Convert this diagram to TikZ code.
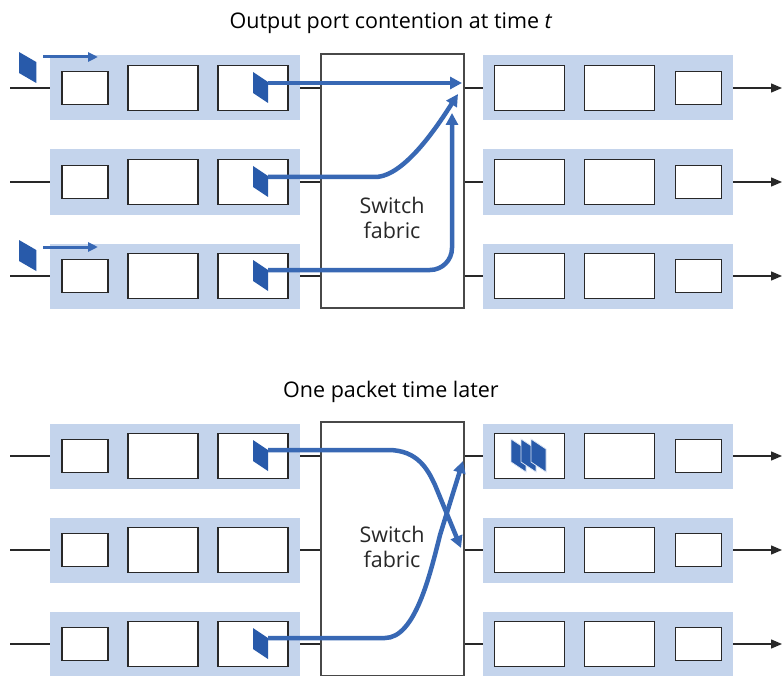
\documentclass[tikz,border=0pt]{standalone}
\usepackage{fontspec}
\setmainfont{Open Sans}
\usetikzlibrary{arrows.meta}
\definecolor{cardblue}{RGB}{196,212,236}
\definecolor{flow}{RGB}{56,104,180}
\definecolor{pktblue}{RGB}{40,90,170}
\definecolor{edge}{RGB}{40,40,40}
\tikzset{
  card/.style={fill=cardblue, draw=none, minimum width=250pt, minimum height=65pt, inner sep=0pt},
  qbox/.style={fill=white, draw=edge, line width=1.5pt, inner sep=0pt, minimum height=45pt, minimum width=70pt},
  sbox/.style={qbox, minimum width=46pt, minimum height=33pt},
  fabricbox/.style={fill=white, draw=edge!85, line width=1.2pt, minimum width=143pt, minimum height=254pt, inner sep=0pt},
  wire/.style={draw=edge, line width=1.3pt},
  outwire/.style={wire, -{Triangle[length=11pt,width=9pt]}},
  flowarrow/.style={draw=flow, line width=4.5pt, -{Triangle[length=12pt,width=12pt]}},
  feedarrow/.style={draw=flow, line width=3pt, -{Triangle[length=10pt,width=9pt]}},
  titletext/.style={font=\fontsize{21.5}{25}\selectfont, text=black, inner sep=0pt},
  fabriclabel/.style={font=\fontsize{21.5}{25}\selectfont, text=edge, align=center, inner sep=0pt},
  packetpic/.pic={\fill[pktblue] (0,0) -- (15,10) -- (15,31) -- (0,21) -- cycle;},
  stackpic/.pic={\filldraw[fill=pktblue, draw=cardblue!60!white, line width=0.8pt] (0,0) -- (15,10) -- (15,33) -- (0,23) -- cycle;},
}
\begin{document}
\begin{tikzpicture}[x=1pt,y=-1pt]
\useasboundingbox (0,0) rectangle (783,676);

\foreach \s/\off in {0/0,1/368}{
  \node[fabricbox] (fab\s) at (392.5,181+\off) {};
  \foreach \r in {1,2,3}{
    \pgfmathsetmacro\cy{88+94*(\r-1)+\off}
    \node[card] (inc\s\r) at (175,\cy) {};
    \node[sbox] (ia\s\r) at (85,\cy) {};
    \node[qbox] (ib\s\r) at (163,\cy) {};
    \node[qbox] (ic\s\r) at (253,\cy) {};
    \node[card] (outc\s\r) at (608,\cy) {};
    \node[qbox] (oa\s\r) at (529.5,\cy) {};
    \node[qbox] (ob\s\r) at (619.5,\cy) {};
    \node[sbox] (oc\s\r) at (698.5,\cy) {};
    \coordinate (src\s\r) at (10,\cy);
    \coordinate (dst\s\r) at (782,\cy);
    \draw[wire] (src\s\r) -- (inc\s\r.west);
    \draw[wire] (inc\s\r.east) -- (fab\s.west |- inc\s\r.east);
    \draw[wire] (fab\s.east |- outc\s\r.west) -- (outc\s\r.west);
    \draw[outwire] (outc\s\r.east) -- (dst\s\r);
  }
}

% titles and labels
\node[titletext] (t0) at (391,23) {Output port contention at time \textit{t}};
\node[titletext] (t1) at (391,392) {One packet time later};
\node[fabriclabel] (lab0) at (392,218) {Switch\\fabric};
\node[fabriclabel] (lab1) at (392,547) {Switch\\fabric};

% packets, top section
\pic at (253,72) {packetpic};
\pic at (253,166) {packetpic};
\pic at (253,260) {packetpic};
\pic[xscale=1.15] at (19,52) {packetpic};
\pic[xscale=1.15] at (19,240) {packetpic};
% packets, bottom section
\pic at (253,440) {packetpic};
\pic at (253,628) {packetpic};
\pic at (511,439) {stackpic};
\pic at (521,439) {stackpic};
\pic at (531,439) {stackpic};

% feed arrows
\coordinate (fa1) at (43,57);  \coordinate (fb1) at (98,57);
\coordinate (fa3) at (43,247); \coordinate (fb3) at (98,247);
\draw[feedarrow] (fa1) -- (fb1);
\draw[feedarrow] (fa3) -- (fb3);

% flows, top section
\coordinate (p01) at (268,83);  \coordinate (t01) at (462,83);
\coordinate (p02) at (268,177); \coordinate (k02) at (375,177); \coordinate (t02) at (458,94);
\coordinate (p03) at (268,270); \coordinate (t03) at (452,113);
\draw[flowarrow] (p01) -- (t01);
\draw[flowarrow] (p02) -- (k02) .. controls (405,177) and (440,122) .. (t02);
\draw[flowarrow, rounded corners=22pt] (p03) -| (t03);

% flows, bottom section
\coordinate (p11) at (268,450); \coordinate (k11) at (388,450); \coordinate (m11) at (435,485); \coordinate (t11) at (461,548);
\coordinate (p13) at (268,638); \coordinate (k13) at (385,638); \coordinate (m13) at (440,535); \coordinate (t13) at (463,461);
\draw[flowarrow] (p11) -- (k11) .. controls (418,450) and (428,470) .. (m11) -- (t11);
\draw[flowarrow] (p13) -- (k13) .. controls (415,638) and (430,575) .. (m13) -- (t13);
\end{tikzpicture}
\end{document}
